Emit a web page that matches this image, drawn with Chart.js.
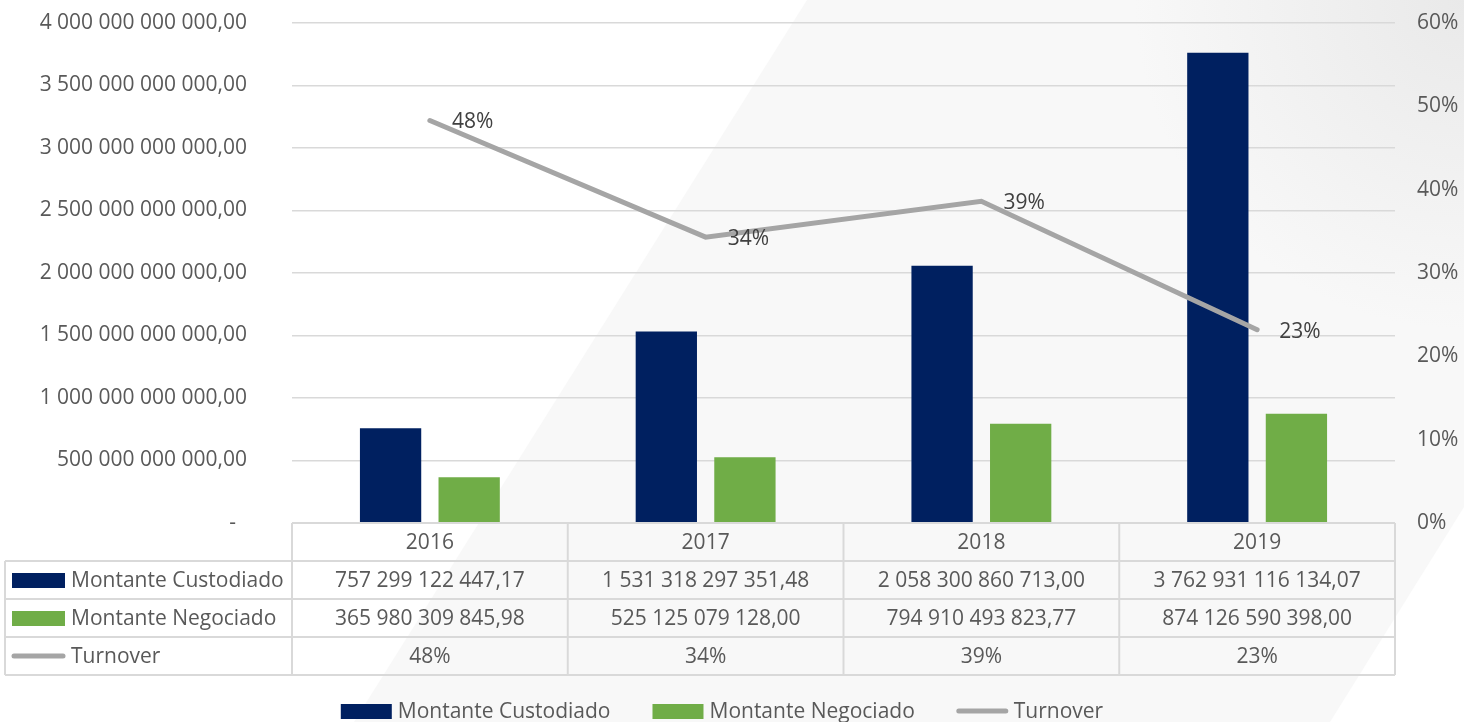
<!DOCTYPE html>
<html>
<head>
<meta charset="utf-8">
<script src="https://cdn.jsdelivr.net/npm/chart.js@4"></script>
<style>
  html, body { margin: 0; padding: 0; background: #fff; }
  #wrap { width: 1464px; height: 722px; }
</style>
</head>
<body>
<div id="wrap"><canvas id="chart" width="1464" height="722"></canvas></div>
<script>
var years = ['2016', '2017', '2018', '2019'];
var custodiado = [757299122447.17, 1531318297351.48, 2058300860713.00, 3762931116134.07];
var negociado = [365980309845.98, 525125079128.00, 794910493823.77, 874126590398.00];
var turnover = [48.3, 34.3, 38.6, 23.2];

var FONT = '"Open Sans", "DejaVu Sans", sans-serif';
var FS = 21;
var TEXT = '#595959';

function fmtMoney(v) {
    if (v === 0) return '-  ';
    var p = v.toFixed(2).split('.');
    return p[0].replace(/\B(?=(\d{3})+(?!\d))/g, ' ') + ',' + p[1];
}

// light diagonal band behind everything
var backdrop = {
    id: 'backdrop',
    beforeDraw: function (chart) {
        var ctx = chart.ctx;
        ctx.save();
        ctx.fillStyle = '#ffffff';
        ctx.fillRect(0, 0, chart.width, chart.height);
        ctx.fillStyle = '#f8f8f8';
        ctx.beginPath();
        ctx.moveTo(807, 0);
        ctx.lineTo(1464, 0);
        ctx.lineTo(1464, 507);
        ctx.lineTo(1330, 722);
        ctx.lineTo(354, 722);
        ctx.closePath();
        ctx.fill();
        var g = ctx.createRadialGradient(1464, 0, 0, 1464, 0, 330);
        g.addColorStop(0, 'rgba(215,215,215,0.45)');
        g.addColorStop(1, 'rgba(215,215,215,0)');
        ctx.fillStyle = g;
        ctx.fillRect(1130, 0, 334, 330);
        ctx.restore();
    }
};

// percentage labels to the right of each line point
var lineLabels = {
    id: 'lineLabels',
    afterDatasetsDraw: function (chart) {
        var ctx = chart.ctx;
        var idx = chart.data.datasets.findIndex(function (d) { return d.type === 'line'; });
        var meta = chart.getDatasetMeta(idx);
        ctx.save();
        ctx.font = FS + 'px ' + FONT;
        ctx.fillStyle = '#404040';
        ctx.textAlign = 'left';
        ctx.textBaseline = 'middle';
        meta.data.forEach(function (pt, i) {
            ctx.fillText(Math.round(turnover[i]) + '%', pt.x + 22, pt.y + 2);
        });
        ctx.restore();
    }
};

function drawMarker(ctx, ds, x, y, w) {
    if (ds.type === 'line') {
        ctx.strokeStyle = ds.borderColor;
        ctx.lineWidth = 5;
        ctx.lineCap = 'round';
        ctx.beginPath();
        ctx.moveTo(x + 2, y);
        ctx.lineTo(x + w - 2, y);
        ctx.stroke();
    } else {
        ctx.fillStyle = ds.backgroundColor;
        ctx.fillRect(x, y - 7, w, 15);
    }
}

// data table under the plot + legend at the bottom
var dataTable = {
    id: 'dataTable',
    afterDraw: function (chart) {
        var ctx = chart.ctx;
        var area = chart.chartArea;
        var xs = chart.scales.x;
        var n = chart.data.labels.length;
        var colW = (area.right - area.left) / n;
        var rowH = 38;
        var top = area.bottom;
        var tableLeft = 5;
        var sets = chart.data.datasets;
        var rowsBottom = top + rowH * (sets.length + 1);

        ctx.save();
        ctx.strokeStyle = '#d9d9d9';
        ctx.lineWidth = 2;
        ctx.beginPath();
        ctx.moveTo(area.left, top);
        ctx.lineTo(area.right, top);
        for (var r = 1; r <= sets.length + 1; r++) {
            ctx.moveTo(tableLeft, top + r * rowH);
            ctx.lineTo(area.right, top + r * rowH);
        }
        for (var c = 0; c <= n; c++) {
            var cx = area.left + c * colW;
            ctx.moveTo(cx, top);
            ctx.lineTo(cx, rowsBottom);
        }
        ctx.moveTo(tableLeft, top + rowH);
        ctx.lineTo(tableLeft, rowsBottom);
        ctx.stroke();

        ctx.font = FS + 'px ' + FONT;
        ctx.fillStyle = TEXT;
        ctx.textBaseline = 'middle';
        ctx.textAlign = 'center';
        chart.data.labels.forEach(function (lab, i) {
            ctx.fillText(lab, xs.getPixelForValue(i), top + rowH / 2 + 1);
        });

        sets.forEach(function (ds, r) {
            var y = top + rowH * (r + 1) + rowH / 2;
            drawMarker(ctx, ds, 12, y, 53);
            ctx.fillStyle = TEXT;
            ctx.textAlign = 'left';
            ctx.fillText(ds.label, 71, y + 1);
            ctx.textAlign = 'center';
            ds.data.forEach(function (v, i) {
                var txt = ds.type === 'line' ? Math.round(v) + '%' : fmtMoney(v);
                ctx.fillText(txt, xs.getPixelForValue(i), y + 1);
            });
        });

        // legend
        var ly = 711;
        var items = sets.map(function (ds) {
            return { ds: ds, w: 51 + 6 + ctx.measureText(ds.label).width };
        });
        var gap = 42;
        var total = items.reduce(function (s, it) { return s + it.w; }, 0) + gap * (items.length - 1);
        var lx = 722 - total / 2;
        ctx.textAlign = 'left';
        items.forEach(function (it) {
            drawMarker(ctx, it.ds, lx, ly, 51);
            ctx.fillStyle = TEXT;
            ctx.fillText(it.ds.label, lx + 57, ly + 1);
            lx += it.w + gap;
        });
        ctx.restore();
    }
};

function draw() {
    var ctx = document.getElementById('chart').getContext('2d');
    new Chart(ctx, {
        data: {
            labels: years,
            datasets: [{
                type: 'bar',
                label: 'Montante Custodiado',
                data: custodiado,
                backgroundColor: '#002060',
                yAxisID: 'y',
                order: 1
            }, {
                type: 'bar',
                label: 'Montante Negociado',
                data: negociado,
                backgroundColor: '#70ad47',
                yAxisID: 'y',
                order: 1
            }, {
                type: 'line',
                label: 'Turnover',
                data: turnover,
                borderColor: '#a5a5a5',
                backgroundColor: '#a5a5a5',
                borderWidth: 5,
                borderCapStyle: 'round',
                borderJoinStyle: 'miter',
                pointRadius: 0,
                tension: 0,
                yAxisID: 'y1',
                order: 0
            }]
        },
        options: {
            responsive: false,
            animation: false,
            devicePixelRatio: 1,
            datasets: {
                bar: { categoryPercentage: 0.57, barPercentage: 0.78 }
            },
            layout: { padding: { top: 23, bottom: 199, left: 0, right: 0 } },
            plugins: {
                legend: { display: false },
                tooltip: { enabled: false }
            },
            scales: {
                x: {
                    display: false,
                    offset: true
                },
                y: {
                    position: 'left',
                    min: 0,
                    max: 4000000000000,
                    border: { display: false },
                    grid: { color: '#d9d9d9', lineWidth: 1.5, drawTicks: false },
                    ticks: {
                        stepSize: 500000000000,
                        padding: 45,
                        color: TEXT,
                        font: { family: FONT, size: FS },
                        callback: function (v) { return fmtMoney(v); }
                    },
                    afterFit: function (s) { s.width = 292; s.paddingTop = 12; s.paddingBottom = 12; }
                },
                y1: {
                    position: 'right',
                    min: 0,
                    max: 60,
                    border: { display: false },
                    grid: { display: false, drawTicks: false },
                    ticks: {
                        stepSize: 10,
                        padding: 22,
                        color: TEXT,
                        font: { family: FONT, size: FS },
                        callback: function (v) { return v + '%'; }
                    },
                    afterFit: function (s) { s.width = 69; s.paddingTop = 12; s.paddingBottom = 12; }
                }
            }
        },
        plugins: [backdrop, lineLabels, dataTable]
    });
}

document.fonts.load(FS + 'px "Open Sans"').then(draw, draw);
</script>
</body>
</html>
